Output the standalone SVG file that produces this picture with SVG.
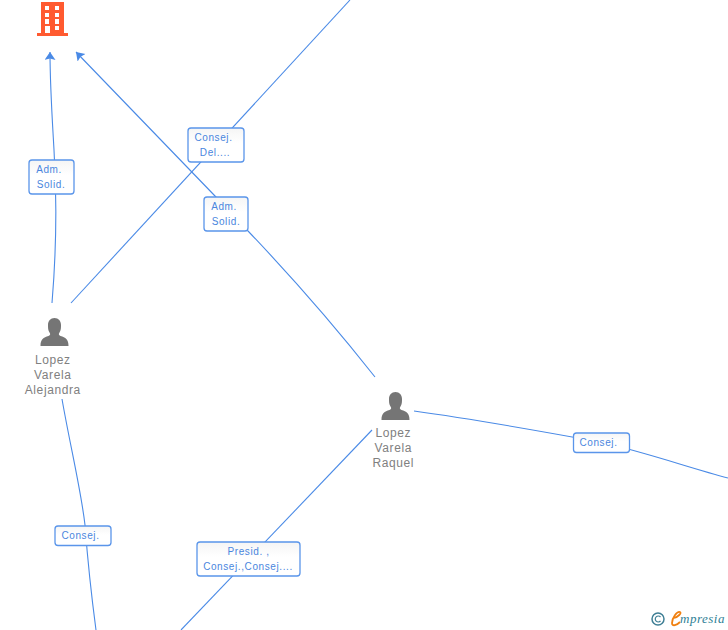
<svg xmlns="http://www.w3.org/2000/svg" width="728" height="630" viewBox="0 0 728 630">
<style>
.c{fill:none;stroke:#4a8ae6;stroke-width:1.1}
.l{fill:url(#lg);stroke:#5a95ea;stroke-width:1.3}
.lt{font:10px "Liberation Sans",Arial,sans-serif;fill:#4a86de;text-anchor:middle;letter-spacing:.6px}
.nt{font:12px "Liberation Sans",Arial,sans-serif;fill:#808080;text-anchor:middle;letter-spacing:.6px}
.p{fill:#757575}
</style>
<defs>
<linearGradient id="lg" x1="0" y1="0" x2="0" y2="1"><stop offset="0" stop-color="#f5f5f5"/><stop offset=".45" stop-color="#fff"/></linearGradient>
<marker id="a" markerWidth="11" markerHeight="12" refX="8" refY="5.500" orient="auto" markerUnits="userSpaceOnUse"><path d="M0 0L8 5.500L0 11L1.500 5.500Z" fill="#4a8ae6"/></marker>
<g id="person"><path class="p" d="M-14 14C-14 7-11 5.500-6 4C-4 3.300-4 2-5 .500C-6.500-2-6.500-4-6.500-7C-6.500-11-4 -14 0-14C4-14 6.500-11 6.500-7C6.500-4 6.500-2 5 .500C4 2 4 3.300 6 4C11 5.500 14 7 14 14Z"/></g>
</defs>
<g id="connectors">
<path class="c" marker-end="url(#a)" d="M52 303C56 255 57 200 54 150C52 115 50 85 50 52"/>
<path class="c" d="M71 303L350 0"/>
<path class="c" marker-end="url(#a)" d="M375 377C330 320 290 275 248 231L215 196L76 52"/>
<path class="c" d="M414 411C480 420 540 431 600 442C645 452 690 468 728 478"/>
<path class="c" d="M62 399C70 445 81 490 85 525C88 565 92 600 96 630"/>
<path class="c" d="M372 430L181 630"/>
</g>
<g id="n-building" fill="#ff5a30">
<path fill-rule="evenodd" d="M41 2H64V33H68V36H37V33H41ZM45 6V10H49V6ZM55 6V10H59V6ZM45 13V17H49V13ZM55 13V17H59V13ZM45 19V24H49V19ZM55 19V24H59V19ZM45 26V33H50V26ZM55 26V30H59V26Z"/>
</g>
<g id="n-alejandra">
<use href="#person" x="54.500" y="332"/>
<text class="nt" x="52.800" y="364">Lopez</text>
<text class="nt" x="52.800" y="379">Varela</text>
<text class="nt" x="52.800" y="394">Alejandra</text>
</g>
<g id="n-raquel">
<use href="#person" x="395.500" y="406"/>
<text class="nt" x="393.300" y="437">Lopez</text>
<text class="nt" x="393.300" y="452">Varela</text>
<text class="nt" x="393.300" y="467">Raquel</text>
</g>
<g id="l-adm1">
<rect class="l" x="29" y="160" width="45" height="34" rx="3"/>
<text class="lt" x="49" y="173">Adm.</text>
<text class="lt" x="51" y="188">Solid.</text>
</g>
<g id="l-consejdel">
<rect class="l" x="188" y="128" width="56" height="34" rx="3"/>
<text class="lt" x="213.500" y="141">Consej.</text>
<text class="lt" x="215" y="156">Del....</text>
</g>
<g id="l-adm2">
<rect class="l" x="204" y="197" width="44" height="34" rx="3"/>
<text class="lt" x="224" y="210">Adm.</text>
<text class="lt" x="226" y="225">Solid.</text>
</g>
<g id="l-consej1">
<rect class="l" x="55" y="526" width="56" height="19.500" rx="3"/>
<text class="lt" x="80.500" y="539">Consej.</text>
</g>
<g id="l-presid">
<rect class="l" x="197" y="542" width="103" height="34" rx="3"/>
<text class="lt" x="248.500" y="555">Presid. ,</text>
<text class="lt" x="248" y="570">Consej.,Consej....</text>
</g>
<g id="l-consej2">
<rect class="l" x="573.500" y="433" width="56" height="19.500" rx="3"/>
<text class="lt" x="598.500" y="446">Consej.</text>
</g>
<g id="logo">
<circle cx="658" cy="619" r="6" fill="none" stroke="#3f7f95" stroke-width="1.500"/>
<path d="M660.500 617A3 3 0 1 0 660.500 621" fill="none" stroke="#3f7f95" stroke-width="1.200"/>
<path d="M674 618C678 617 682 613 680 612C677 611 672 618 672 623C672 627 677 625 680 622" fill="none" stroke="#f08010" stroke-width="1.800"/>
<text x="680" y="623" font-family="Liberation Serif,serif" font-style="italic" font-size="13" fill="#2f7f96" letter-spacing=".5">mpresia</text>
</g>
</svg>
